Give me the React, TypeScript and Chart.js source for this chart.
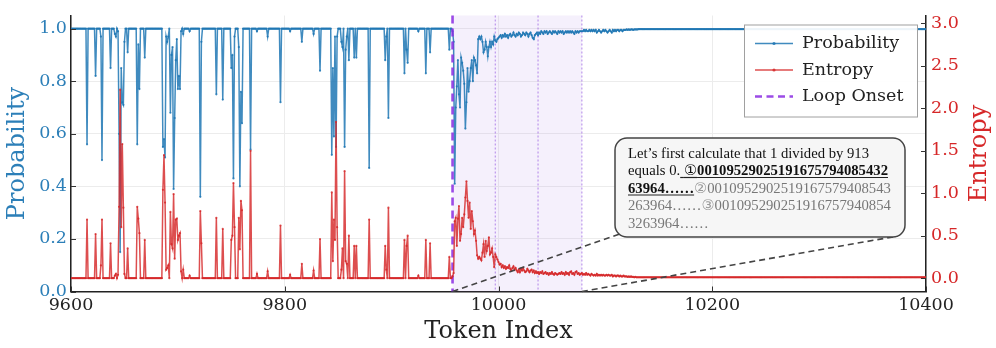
import React, { useEffect, useRef } from "react";
import { Chart, registerables } from "chart.js";

Chart.register(...registerables);

// ---------------- data ----------------
const tokenStart = 9600;
const tokenEnd = 10400;
const xTicks = [9600, 9800, 10000, 10200, 10400];
const probTicks = [0, 0.2, 0.4, 0.6, 0.8, 1.0];
const entTicks = [0, 0.5, 1.0, 1.5, 2.0, 2.5, 3.0];

const loopOnset = 9957;
const loopMarks = [9997, 10037, 10078];
const loopRegionEnd = 10078;

const baseProb = 1.0;
const baseEnt = 0.0;
const tailProb = 0.998;
const tailEnt = 0.01;

// spikes before the loop onset (token, probability, entropy)
const spikeTokens = [
  9615, 9623, 9628, 9629, 9637, 9641, 9642, 9644, 9645, 9646, 9647, 9648, 9649, 9650, 9653,
  9662, 9663, 9664, 9669, 9686, 9687, 9688, 9689, 9690, 9691, 9693, 9694, 9695, 9696, 9697,
  9698, 9699, 9700, 9701, 9702, 9703, 9705, 9711, 9721, 9722, 9736, 9742, 9750, 9751, 9752,
  9753, 9757, 9758, 9759, 9760, 9768, 9774, 9784, 9796, 9805, 9816, 9827, 9833, 9844, 9845,
  9846, 9847, 9848, 9849, 9853, 9854, 9856, 9857, 9858, 9860, 9865, 9867, 9879, 9894, 9895,
  9897, 9912, 9914, 9915, 9925, 9932, 9936, 9954,
];
const spikeProb = [
  0.56, 0.82, 0.97, 0.50, 0.85, 0.98, 0.97, 0.99, 0.60, 0.15, 0.85, 0.72, 0.71, 0.95, 0.91,
  0.56, 0.94, 0.77, 0.89, 0.55, 0.58, 0.51, 0.97, 0.95, 0.97, 0.68, 0.90, 0.93, 0.39, 0.66,
  0.88, 0.96, 0.77, 0.82, 0.77, 0.99, 0.98, 0.99, 0.36, 0.95, 0.75, 0.73, 0.85, 0.90, 0.43,
  0.97, 0.93, 0.40, 0.76, 0.64, 0.54, 0.99, 0.97, 0.72, 0.99, 0.95, 0.98, 0.84, 0.52, 0.85,
  0.59, 0.97, 0.55, 0.97, 0.95, 0.93, 0.55, 0.92, 0.97, 0.88, 0.89, 0.89, 0.47, 0.88, 0.97,
  0.66, 0.83, 0.92, 0.87, 0.99, 0.83, 0.91, 0.92,
];
const spikeEnt = [
  0.69, 0.52, 0.15, 0.69, 0.41, 0.03, 0.05, 0.04, 0.84, 2.22, 0.60, 1.58, 0.83, 0.05, 0.35,
  0.84, 0.70, 0.53, 0.45, 1.04, 1.45, 0.89, 0.10, 0.12, 0.15, 0.78, 0.40, 0.35, 0.99, 0.23,
  0.69, 0.70, 0.45, 0.50, 0.53, 0.08, 0.10, 0.03, 0.79, 0.41, 0.71, 0.58, 0.45, 0.50, 1.12,
  0.60, 0.71, 0.34, 0.91, 0.80, 1.50, 0.05, 0.08, 0.62, 0.04, 0.17, 0.09, 0.46, 1.01, 0.20,
  0.69, 0.45, 1.84, 0.60, 0.10, 0.35, 1.26, 0.20, 0.17, 0.50, 0.38, 0.38, 0.69, 0.38, 0.10,
  0.83, 0.45, 0.38, 0.50, 0.03, 0.45, 0.41, 0.25,
];

// values from the loop onset (9957) onwards, one per token
const loopProb = [
  0.99, 0.95, 0.41, 0.70, 0.78, 0.88, 0.75, 0.70, 0.89, 0.87,
  0.84, 0.79, 0.62, 0.72, 0.85, 0.76, 0.80, 0.85, 0.88, 0.80,
  0.89, 0.88, 0.86, 0.83, 0.96, 0.97, 0.96, 0.97, 0.95, 0.91,
  0.92, 0.95, 0.93, 0.895, 0.93, 0.95, 0.93, 0.95, 0.94, 0.97,
  0.955, 0.95, 0.96, 0.965, 0.97, 0.975, 0.965, 0.975, 0.97, 0.98,
  0.97, 0.975, 0.965, 0.975, 0.98, 0.97, 0.975, 0.985, 0.975, 0.97,
  0.98, 0.975, 0.985, 0.98, 0.97, 0.975, 0.985, 0.98, 0.975, 0.985,
  0.98, 0.97, 0.98, 0.985, 0.975, 0.965, 0.96, 0.975, 0.98, 0.985,
  0.975, 0.985, 0.98, 0.99, 0.985, 0.98, 0.99, 0.985, 0.99, 0.98,
  0.985, 0.99, 0.985, 0.98, 0.99, 0.985, 0.99, 0.985, 0.98, 0.99,
  0.985, 0.99, 0.985, 0.99, 0.98, 0.985, 0.99, 0.985, 0.99, 0.985,
  0.99, 0.985, 0.99, 0.985, 0.98, 0.99, 0.985, 0.99, 0.985, 0.99, 0.99, 0.99,
  0.99, 0.995, 0.99, 0.995, 0.99, 0.99, 0.995, 0.99, 0.995, 0.99,
  0.995, 0.99, 0.995, 0.985, 0.99, 0.995, 0.99, 0.985, 0.99, 0.995,
  0.99, 0.995, 0.99, 0.985, 0.99, 0.995, 0.99, 0.985, 0.995, 0.99,
  0.995, 0.99, 0.995, 0.995, 0.99, 0.995, 0.995, 0.99, 0.995, 0.995,
  0.995, 0.997, 0.995, 0.997, 0.995, 0.997, 0.997, 0.995, 0.997, 0.997, 0.997, 0.997,
];
const loopEnt = [
  0.02, 0.06, 0.67, 0.71, 0.38, 0.70, 0.85, 0.44, 0.52, 0.71,
  0.60, 0.75, 0.95, 1.14, 0.91, 0.71, 0.89, 0.58, 0.79, 0.67,
  0.52, 0.56, 0.44, 0.27, 0.23, 0.25, 0.23, 0.21, 0.30, 0.40,
  0.25, 0.44, 0.32, 0.38, 0.48, 0.28, 0.30, 0.35, 0.25, 0.13,
  0.28, 0.25, 0.22, 0.19, 0.16, 0.17, 0.13, 0.15, 0.12, 0.14,
  0.11, 0.13, 0.12, 0.15, 0.11, 0.09, 0.12, 0.14, 0.10, 0.12,
  0.09, 0.07, 0.10, 0.07, 0.11, 0.09, 0.12, 0.09, 0.07, 0.08,
  0.11, 0.09, 0.07, 0.09, 0.10, 0.07, 0.09, 0.06, 0.08, 0.06,
  0.07, 0.05, 0.07, 0.06, 0.08, 0.05, 0.06, 0.07, 0.05, 0.06,
  0.04, 0.06, 0.05, 0.07, 0.05, 0.04, 0.06, 0.05, 0.04, 0.05, 0.06, 0.05, 0.07,
  0.05, 0.06, 0.04, 0.07, 0.05, 0.06, 0.04, 0.07, 0.08, 0.05,
  0.06, 0.04, 0.07, 0.08, 0.05, 0.06, 0.04, 0.05, 0.06, 0.04,
  0.05, 0.04, 0.06, 0.04, 0.05, 0.04, 0.03, 0.05, 0.04, 0.03,
  0.04, 0.03, 0.05, 0.03, 0.04, 0.03, 0.04, 0.03, 0.04, 0.03,
  0.03, 0.04, 0.03, 0.04, 0.03, 0.03, 0.04, 0.02, 0.03, 0.03,
  0.02, 0.03, 0.03, 0.02, 0.03, 0.02, 0.02, 0.03, 0.02, 0.02,
  0.02, 0.015, 0.02, 0.015, 0.02, 0.015, 0.015, 0.01, 0.015, 0.01, 0.01,
];

const legendLabels = ["Probability", "Entropy", "Loop Onset"];
const rightTitle = "Entropy";

type Seg = { t: string; b?: boolean; c: string; u?: boolean; sym?: boolean };
const annotationLines: Seg[][] = [
  [{ t: "Let\u2019s first calculate that 1 divided by 913", c: "#111" }],
  [
    { t: "equals 0.", c: "#111" },
    { t: " ", c: "#111", u: true },
    { t: "\u2460", c: "#111", u: true, sym: true },
    { t: "00109529025191675794085432", b: true, c: "#111", u: true },
  ],
  [
    { t: "63964\u2026\u2026", b: true, c: "#111", u: true },
    { t: "\u2461", c: "#999", sym: true },
    { t: "0010952902519167579408543", c: "#777" },
  ],
  [
    { t: "263964\u2026\u2026", c: "#777" },
    { t: "\u2462", c: "#999", sym: true },
    { t: "001095290251916757940854", c: "#777" },
  ],
  [{ t: "3263964\u2026\u2026", c: "#777" }],
];

// ---------------- styles ----------------
const BLUE = "rgba(31,119,180,0.85)";
const BLUE_TXT = "#2c7fb8";
const RED = "rgba(214,39,40,0.82)";
const RED_TXT = "#d62728";
const PURPLE = "rgba(138,43,226,0.85)";
const SERIF = '"DejaVu Serif", serif';
const W = 996;
const H = 348;

function buildSeries() {
  const prob: { x: number; y: number }[] = [];
  const ent: { x: number; y: number }[] = [];
  for (let t = tokenStart; t <= tokenEnd; t++) {
    let p = baseProb;
    let e = baseEnt;
    if (t < loopOnset) {
      const i = spikeTokens.indexOf(t);
      if (i >= 0) {
        p = spikeProb[i];
        e = spikeEnt[i];
      }
    } else {
      const k = t - loopOnset;
      p = k < loopProb.length ? loopProb[k] : tailProb;
      e = k < loopEnt.length ? loopEnt[k] : tailEnt;
    }
    prob.push({ x: t, y: p });
    ent.push({ x: t, y: e });
  }
  return { prob, ent };
}

const decorPlugin = {
  id: "decor",
  beforeDatasetsDraw(chart: any) {
    const { ctx, chartArea: a, scales } = chart;
    const x = scales.x;
    const x0 = x.getPixelForValue(loopOnset);
    const x1 = x.getPixelForValue(loopRegionEnd);
    ctx.save();
    ctx.fillStyle = "rgba(165,115,230,0.11)";
    ctx.fillRect(x0, a.top, x1 - x0, a.bottom - a.top);
    ctx.strokeStyle = "rgba(150,90,225,0.6)";
    ctx.lineWidth = 1.2;
    ctx.setLineDash([2, 2]);
    for (const m of loopMarks) {
      const px = x.getPixelForValue(m);
      ctx.beginPath();
      ctx.moveTo(px, a.top);
      ctx.lineTo(px, a.bottom);
      ctx.stroke();
    }
    ctx.restore();
  },
  afterDatasetDraw(chart: any, args: any) {
    if (args.index !== 0) return;
    const { ctx, chartArea: a, scales } = chart;
    const px = scales.x.getPixelForValue(loopOnset);
    ctx.save();
    ctx.strokeStyle = PURPLE;
    ctx.lineWidth = 2.6;
    ctx.setLineDash([8, 5]);
    ctx.beginPath();
    ctx.moveTo(px, a.top);
    ctx.lineTo(px, a.bottom);
    ctx.stroke();
    ctx.restore();
  },
  afterDraw(chart: any) {
    const { ctx, chartArea: a, scales } = chart;
    const x = scales.x;
    const y = scales.y;
    const y1 = scales.y1;
    ctx.save();
    // inward tick marks
    ctx.strokeStyle = "#333";
    ctx.lineWidth = 1;
    ctx.setLineDash([]);
    for (const v of xTicks) {
      const px = Math.round(x.getPixelForValue(v)) + 0.5;
      ctx.beginPath();
      ctx.moveTo(px, a.bottom);
      ctx.lineTo(px, a.bottom - 5);
      ctx.stroke();
    }
    for (const v of probTicks) {
      const py = Math.round(y.getPixelForValue(v)) + 0.5;
      ctx.beginPath();
      ctx.moveTo(a.left, py);
      ctx.lineTo(a.left + 5, py);
      ctx.stroke();
    }
    for (const v of entTicks) {
      const py = Math.round(y1.getPixelForValue(v)) + 0.5;
      ctx.beginPath();
      ctx.moveTo(a.right, py);
      ctx.lineTo(a.right - 5, py);
      ctx.stroke();
    }

    // right axis title, rotated like the left one
    ctx.save();
    ctx.translate(y1.right - 16, (a.top + a.bottom) / 2);
    ctx.rotate(-Math.PI / 2);
    ctx.font = `24px ${SERIF}`;
    ctx.fillStyle = RED_TXT;
    ctx.textAlign = "center";
    ctx.textBaseline = "middle";
    ctx.fillText(rightTitle, 0, 0);
    ctx.restore();

    // annotation box geometry
    const bx = 615;
    const by = 138;
    const bw = 290;
    const bh = 99;

    // connector dashed lines
    ctx.strokeStyle = "#444";
    ctx.lineWidth = 1.6;
    ctx.setLineDash([6, 4]);
    ctx.beginPath();
    ctx.moveTo(x.getPixelForValue(loopOnset), a.bottom);
    ctx.lineTo(bx + 5, by + bh - 3);
    ctx.stroke();
    ctx.beginPath();
    ctx.moveTo(x.getPixelForValue(loopRegionEnd), a.bottom);
    ctx.lineTo(bx + bw - 7, by + bh - 1);
    ctx.stroke();
    ctx.setLineDash([]);

    // annotation box
    ctx.beginPath();
    (ctx as any).roundRect(bx, by, bw, bh, 12);
    ctx.fillStyle = "rgba(246,246,246,0.96)";
    ctx.fill();
    ctx.strokeStyle = "#444";
    ctx.lineWidth = 1.5;
    ctx.stroke();

    const fs = 14.7;
    ctx.textBaseline = "alphabetic";
    ctx.textAlign = "left";
    annotationLines.forEach((line, li) => {
      let cx = bx + 13;
      const base = by + 19.5 + li * 17.5;
      for (const s of line) {
        ctx.font = s.sym
          ? `${fs}px "DejaVu Sans", "Noto Sans CJK SC", sans-serif`
          : `${s.b ? "bold " : ""}${fs}px "Liberation Serif", "Times New Roman", serif`;
        ctx.fillStyle = s.c;
        ctx.fillText(s.t, cx, base);
        const w = ctx.measureText(s.t).width;
        if (s.u) {
          ctx.strokeStyle = "#222";
          ctx.lineWidth = 1.2;
          ctx.beginPath();
          ctx.moveTo(cx, base + 2.5);
          ctx.lineTo(cx + w, base + 2.5);
          ctx.stroke();
        }
        cx += w;
      }
    });

    // legend
    const lw = 173;
    const lh = 92;
    const lx = a.right - 9 - lw;
    const ly = a.top + 9;
    ctx.fillStyle = "rgba(255,255,255,0.92)";
    ctx.fillRect(lx, ly, lw, lh);
    ctx.strokeStyle = "#a0a0a0";
    ctx.lineWidth = 1;
    ctx.strokeRect(lx + 0.5, ly + 0.5, lw, lh);
    const colors = [BLUE, RED, PURPLE];
    legendLabels.forEach((lab, i) => {
      const ry = ly + 19 + i * 26.5;
      const hx0 = lx + 11;
      const hx1 = lx + 49;
      ctx.strokeStyle = colors[i];
      if (i === 2) {
        ctx.lineWidth = 2.6;
        ctx.setLineDash([7, 4.5]);
      } else {
        ctx.lineWidth = 1.5;
        ctx.setLineDash([]);
      }
      ctx.beginPath();
      ctx.moveTo(hx0, ry);
      ctx.lineTo(hx1, ry);
      ctx.stroke();
      ctx.setLineDash([]);
      if (i < 2) {
        ctx.fillStyle = colors[i];
        ctx.beginPath();
        ctx.arc((hx0 + hx1) / 2, ry, 1.6, 0, Math.PI * 2);
        ctx.fill();
      }
      ctx.fillStyle = "#222";
      ctx.font = `17.5px ${SERIF}`;
      ctx.textBaseline = "middle";
      ctx.fillText(lab, lx + 58, ry);
    });
    ctx.restore();
  },
};

export default function App() {
  const ref = useRef<HTMLCanvasElement>(null);
  useEffect(() => {
    const canvas = ref.current;
    if (!canvas) return;
    Chart.defaults.font.family = SERIF;
    const { prob, ent } = buildSeries();
    const chart = new Chart(canvas, {
      type: "line",
      data: {
        datasets: [
          {
            label: legendLabels[0],
            data: prob,
            yAxisID: "y",
            borderColor: BLUE,
            backgroundColor: BLUE,
            borderWidth: 1.5,
            pointRadius: 1.1,
            pointBorderWidth: 0,
            pointBackgroundColor: BLUE,
            tension: 0,
            order: 1,
          },
          {
            label: legendLabels[1],
            data: ent,
            yAxisID: "y1",
            borderColor: RED,
            backgroundColor: RED,
            borderWidth: 1.5,
            pointRadius: 1.1,
            pointBorderWidth: 0,
            pointBackgroundColor: RED,
            tension: 0,
            order: 0,
          },
        ],
      },
      options: {
        responsive: false,
        animation: false,
        devicePixelRatio: 1,
        layout: { padding: { top: 12, left: 0, right: 0, bottom: 0 } },
        plugins: { legend: { display: false }, tooltip: { enabled: false } },
        scales: {
          x: {
            type: "linear",
            min: tokenStart,
            max: tokenEnd,
            afterBuildTicks: (s: any) => {
              s.ticks = xTicks.map((v) => ({ value: v }));
            },
            afterFit: (s: any) => {
              s.height = 56.5;
            },
            ticks: {
              callback: (v: any) => String(v),
              color: "#222",
              font: { size: 17.5 },
              padding: 3,
              maxRotation: 0,
              autoSkip: false,
            },
            grid: { color: "#ececec", lineWidth: 1, drawTicks: false },
            border: { color: "#222", width: 1.5 },
            title: {
              display: true,
              text: "Token Index",
              color: "#222",
              font: { size: 24 },
              padding: { top: 0, bottom: 2 },
            },
          },
          y: {
            type: "linear",
            position: "left",
            min: 0,
            max: 1.05,
            afterBuildTicks: (s: any) => {
              s.ticks = probTicks.map((v) => ({ value: v }));
            },
            afterFit: (s: any) => {
              s.width = 71;
            },
            ticks: {
              callback: (v: any) => Number(v).toFixed(1),
              color: BLUE_TXT,
              font: { size: 17.5 },
              padding: 4,
            },
            grid: { color: "#ececec", lineWidth: 1, drawTicks: false },
            border: { color: "#222", width: 1.5 },
            title: {
              display: true,
              text: "Probability",
              color: BLUE_TXT,
              font: { size: 24 },
              padding: { top: 3, bottom: 0 },
            },
          },
          y1: {
            type: "linear",
            position: "right",
            min: -0.157,
            max: 3.093,
            afterBuildTicks: (s: any) => {
              s.ticks = entTicks.map((v) => ({ value: v }));
            },
            afterFit: (s: any) => {
              s.width = 70;
            },
            ticks: {
              callback: (v: any) => Number(v).toFixed(1),
              color: RED_TXT,
              font: { size: 17.5 },
              padding: 5,
            },
            grid: { drawOnChartArea: false, drawTicks: false },
            border: { color: "#222", width: 1.5 },
            title: { display: false },
          },
        },
      } as any,
      plugins: [decorPlugin],
    });
    return () => chart.destroy();
  }, []);

  return (
    <div style={{ position: "absolute", left: 0, top: 0, width: W, height: H, background: "#fff" }}>
      <canvas ref={ref} width={W} height={H} style={{ width: W, height: H, display: "block" }} />
    </div>
  );
}
